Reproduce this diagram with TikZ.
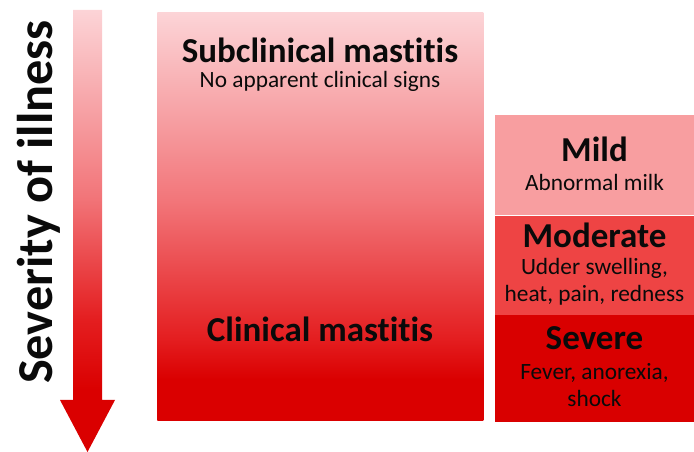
\documentclass[tikz,border=0pt]{standalone}
\usepackage{fontspec}
\setmainfont{Carlito}[Ligatures=NoCommon]
\usetikzlibrary{positioning}
\definecolor{cPale}{RGB}{252,212,215}
\definecolor{cMid}{RGB}{242,118,122}
\definecolor{cDeep}{RGB}{228,30,32}
\definecolor{cRed}{RGB}{218,0,0}
\definecolor{cMild}{RGB}{248,158,160}
\definecolor{cModerate}{RGB}{238,68,68}
\definecolor{cSevere}{RGB}{217,0,0}
\definecolor{tDark}{RGB}{10,10,10}
\pgfdeclareverticalshading{clinshade}{100bp}{color(0bp)=(cRed); color(25bp)=(cRed); color(30bp)=(cRed); color(35bp)=(cDeep); color(52bp)=(cMid); color(75bp)=(cPale); color(100bp)=(cPale)}
\pgfdeclareverticalshading{arrowshade}{100bp}{color(0bp)=(cRed); color(25bp)=(cRed); color(32bp)=(cRed); color(40bp)=(cDeep); color(54bp)=(cMid); color(75bp)=(cPale); color(100bp)=(cPale)}

\begin{document}
\begin{tikzpicture}[
    x=0.75pt, y=-0.75pt,
    title/.style={font=\fontsize{26.25}{30}\selectfont\bfseries, text=tDark, inner sep=0pt, anchor=base},
    desc/.style={font=\fontsize{17.5}{20.25}\selectfont, text=tDark, inner sep=0pt, anchor=base, align=center},
    stage/.style={fill=#1, draw=none, inner sep=0pt, minimum width=149.25pt}
]
\useasboundingbox (0,0) rectangle (694,452);

% Severity arrow
\shade[shading=arrowshade] (73,10) -- (102,10) -- (102,400) -- (115,400) -- (87.5,452) -- (60,400) -- (73,400) -- cycle;
\node[rotate=90, anchor=base, inner sep=0pt, text=tDark, font=\fontsize{37.7}{40}\selectfont\bfseries] (severity) at (52,202) {Severity of illness};

% Subclinical / clinical
\node[shade, shading=clinshade, inner sep=0pt, minimum width=244.5pt, minimum height=306pt, anchor=north west] (mastitis) at (157,12) {};
\node[title] (subclin) at (320,63) {Subclinical mastitis};
\node[desc] (subdesc) at (320,88) {No apparent clinical signs};
\node[title] (clin) at (320,342) {Clinical mastitis};

% Clinical grades
\node[stage=cMild, minimum height=75pt, anchor=north] (mild) at (594.5,115) {};
\node[stage=cModerate, minimum height=74.25pt, below=0pt of mild] (moderate) {};
\node[stage=cSevere, minimum height=80.25pt, below=0pt of moderate] (severe) {};

\node[title] (mildt) at (594.5,162) {Mild};
\node[desc] (mildd) at (594.5,191) {Abnormal milk};
\node[title] (modt) at (594.5,248) {Moderate};
\node[desc] (modd) at (594.5,302) {Udder swelling,\\heat, pain, redness};
\node[title] (sevt) at (594.5,350) {Severe};
\node[desc] (sevd) at (594.5,407) {Fever, anorexia,\\shock};

\end{tikzpicture}
\end{document}
